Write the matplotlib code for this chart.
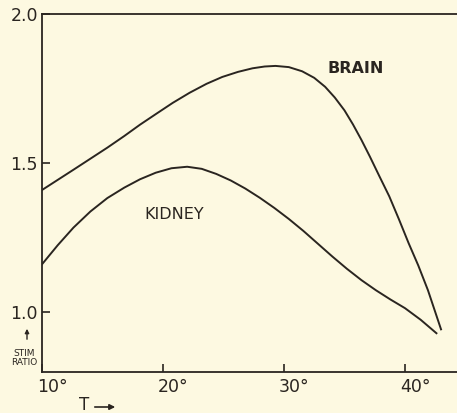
import matplotlib
matplotlib.use("Agg")
import matplotlib.pyplot as plt
import matplotlib.transforms as mtransforms

# Stimulation ratio vs temperature
brain_t = [10.0, 11.3, 12.6, 14.0, 15.4, 16.8, 18.1, 19.5, 20.8, 22.2, 23.6,
           24.9, 26.2, 27.4, 28.4, 29.3, 30.4, 31.5, 32.5, 33.4, 34.2, 35.0,
           35.7, 36.4, 37.1, 37.9, 38.7, 39.5, 40.3, 41.1, 41.9, 42.98]
brain_r = [1.410, 1.444, 1.478, 1.515, 1.552, 1.591, 1.629, 1.667, 1.702,
           1.736, 1.766, 1.789, 1.806, 1.818, 1.824, 1.826, 1.822, 1.808,
           1.786, 1.756, 1.720, 1.677, 1.630, 1.578, 1.522, 1.455, 1.389,
           1.312, 1.232, 1.157, 1.074, 0.943]

kidney_t = [10.0, 11.3, 12.6, 14.0, 15.4, 16.8, 18.1, 19.4, 20.7, 22.0, 23.2,
            24.4, 25.6, 26.8, 28.0, 29.2, 30.4, 31.6, 32.8, 34.0, 35.2, 36.4,
            37.6, 38.8, 40.0, 41.3, 42.6]
kidney_r = [1.161, 1.225, 1.284, 1.338, 1.383, 1.418, 1.446, 1.468, 1.483,
            1.488, 1.481, 1.464, 1.442, 1.415, 1.384, 1.350, 1.313, 1.273,
            1.230, 1.187, 1.146, 1.108, 1.074, 1.043, 1.014, 0.975, 0.930]

x_ticks = [10, 20, 30, 40]
x_labels = ["10°", "20°", "30°", "40°"]
y_ticks = [1.0, 1.5, 2.0]
y_labels = ["1.0", "1.5", "2.0"]

BG = "#fdf9e1"
INK = "#2a2520"

fig = plt.figure(figsize=(4.57, 4.13), dpi=100, facecolor=BG)
W, H = 457, 413
ax = fig.add_axes([42 / W, (H - 372) / H, 415 / W, (372 - 14) / H])
ax.set_facecolor(BG)

ax.plot(brain_t, brain_r, color=INK, lw=1.4, solid_joinstyle="round")
ax.plot(kidney_t, kidney_r, color=INK, lw=1.4, solid_joinstyle="round")

ax.text(35.9, 1.818, "BRAIN", color=INK, fontsize=11.5, fontweight="bold",
        ha="center", va="center")
ax.text(20.95, 1.328, "KIDNEY", color=INK, fontsize=11.5,
        ha="center", va="center")

ax.set_xlim(10, 44.3)
ax.set_ylim(0.8, 2.0)
ax.set_xticks(x_ticks)
ax.set_xticklabels(x_labels)
ax.set_yticks(y_ticks)
ax.set_yticklabels(y_labels)
ax.tick_params(direction="in", length=6, width=1.2, color=INK,
               labelcolor=INK, labelsize=12.5)
ax.tick_params(axis="y", pad=3)
ax.tick_params(axis="x", pad=4)

# nudge the degree labels to the right of their ticks
shift = mtransforms.ScaledTranslation(10 / 100, 0, fig.dpi_scale_trans)
for lab in ax.get_xticklabels():
    lab.set_transform(lab.get_transform() + shift)

for side in ["left", "bottom", "top"]:
    ax.spines[side].set_color(INK)
    ax.spines[side].set_linewidth(1.3)
ax.spines["right"].set_visible(False)

# axis captions with hand-drawn style arrows
fig.text(24 / W, 1 - 358 / H, "STIM\nRATIO", color=INK, fontsize=6.5,
         ha="center", va="center", linespacing=1.0)
ax.annotate("", xy=(27, H - 326), xytext=(27, H - 342),
            xycoords="figure pixels", textcoords="figure pixels",
            arrowprops=dict(arrowstyle="-|>", color=INK, lw=1.0,
                            mutation_scale=6))
fig.text(84 / W, 1 - 405 / H, "T", color=INK, fontsize=12,
         ha="center", va="center")
ax.annotate("", xy=(118, H - 407), xytext=(92, H - 407),
            xycoords="figure pixels", textcoords="figure pixels",
            arrowprops=dict(arrowstyle="-|>", color=INK, lw=1.2,
                            mutation_scale=8))

fig.savefig("out.png", dpi=100, facecolor=BG)
